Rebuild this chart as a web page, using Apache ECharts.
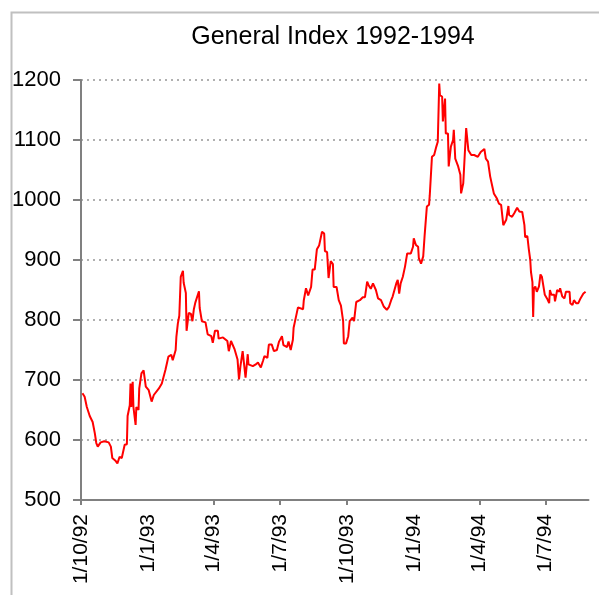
<!DOCTYPE html>
<html>
<head>
<meta charset="utf-8">
<title>General Index 1992-1994</title>
<script src="https://cdn.jsdelivr.net/npm/echarts@6/dist/echarts.min.js"></script>
<style>
  html, body { margin: 0; padding: 0; background: #fff; }
  #chart { width: 599px; height: 595px; }
</style>
</head>
<body>
<div id="chart"></div>
<script>
// index readings (day/month/year on the axis, ISO here)
var dates = [
  '1992-10-03', '1992-10-06', '1992-10-09', '1992-10-13', '1992-10-17', '1992-10-20', '1992-10-22', '1992-10-24', '1992-10-28', '1992-11-02',
  '1992-11-08', '1992-11-11', '1992-11-13', '1992-11-17', '1992-11-20', '1992-11-23', '1992-11-26', '1992-11-27', '1992-11-30', '1992-12-03',
  '1992-12-04', '1992-12-07', '1992-12-08', '1992-12-09', '1992-12-11', '1992-12-12', '1992-12-15', '1992-12-16', '1992-12-19', '1992-12-20',
  '1992-12-23', '1992-12-26', '1992-12-29', '1993-01-02', '1993-01-06', '1993-01-09', '1993-01-11', '1993-01-16', '1993-01-20', '1993-01-22',
  '1993-01-25', '1993-01-27', '1993-01-29', '1993-02-02', '1993-02-04', '1993-02-08', '1993-02-09', '1993-02-11', '1993-02-13', '1993-02-15',
  '1993-02-18', '1993-02-19', '1993-02-22', '1993-02-23', '1993-02-24', '1993-02-26', '1993-03-01', '1993-03-03', '1993-03-05', '1993-03-07',
  '1993-03-12', '1993-03-13', '1993-03-16', '1993-03-18', '1993-03-21', '1993-03-24', '1993-03-25', '1993-03-29', '1993-03-31', '1993-04-03',
  '1993-04-07', '1993-04-08', '1993-04-14', '1993-04-16', '1993-04-20', '1993-04-22', '1993-04-25', '1993-04-27', '1993-04-30', '1993-05-04',
  '1993-05-06', '1993-05-08', '1993-05-11', '1993-05-12', '1993-05-15', '1993-05-18', '1993-05-19', '1993-05-25', '1993-05-29', '1993-06-01',
  '1993-06-05', '1993-06-08', '1993-06-10', '1993-06-14', '1993-06-16', '1993-06-20', '1993-06-23', '1993-06-27', '1993-06-30', '1993-07-04',
  '1993-07-06', '1993-07-11', '1993-07-13', '1993-07-16', '1993-07-19', '1993-07-20', '1993-07-23', '1993-07-26', '1993-07-28', '1993-08-02',
  '1993-08-03', '1993-08-06', '1993-08-09', '1993-08-13', '1993-08-15', '1993-08-18', '1993-08-21', '1993-08-24', '1993-08-28', '1993-08-31',
  '1993-09-01', '1993-09-04', '1993-09-06', '1993-09-09', '1993-09-12', '1993-09-13', '1993-09-17', '1993-09-20', '1993-09-23', '1993-09-26',
  '1993-09-27', '1993-09-30', '1993-10-03', '1993-10-05', '1993-10-09', '1993-10-11', '1993-10-14', '1993-10-16', '1993-10-19', '1993-10-23',
  '1993-10-26', '1993-10-29', '1993-10-31', '1993-11-03', '1993-11-06', '1993-11-10', '1993-11-13', '1993-11-17', '1993-11-21', '1993-11-25',
  '1993-11-28', '1993-12-01', '1993-12-03', '1993-12-08', '1993-12-10', '1993-12-12', '1993-12-14', '1993-12-17', '1993-12-20', '1993-12-23',
  '1993-12-25', '1993-12-28', '1993-12-31', '1994-01-01', '1994-01-04', '1994-01-07', '1994-01-08', '1994-01-11', '1994-01-14', '1994-01-15',
  '1994-01-16', '1994-01-19', '1994-01-22', '1994-01-23', '1994-01-26', '1994-01-29', '1994-02-01', '1994-02-03', '1994-02-05', '1994-02-06',
  '1994-02-09', '1994-02-10', '1994-02-13', '1994-02-14', '1994-02-17', '1994-02-18', '1994-02-21', '1994-02-24', '1994-02-25', '1994-02-27',
  '1994-03-03', '1994-03-06', '1994-03-07', '1994-03-10', '1994-03-12', '1994-03-14', '1994-03-17', '1994-03-21', '1994-03-25', '1994-03-30',
  '1994-04-03', '1994-04-08', '1994-04-10', '1994-04-13', '1994-04-16', '1994-04-19', '1994-04-21', '1994-04-25', '1994-04-28', '1994-05-01',
  '1994-05-04', '1994-05-05', '1994-05-08', '1994-05-11', '1994-05-12', '1994-05-16', '1994-05-19', '1994-05-23', '1994-05-26', '1994-05-30',
  '1994-06-02', '1994-06-03', '1994-06-06', '1994-06-08', '1994-06-10', '1994-06-11', '1994-06-13', '1994-06-14', '1994-06-15', '1994-06-17',
  '1994-06-19', '1994-06-22', '1994-06-24', '1994-06-26', '1994-06-28', '1994-06-30', '1994-07-03', '1994-07-06', '1994-07-07', '1994-07-09',
  '1994-07-13', '1994-07-14', '1994-07-17', '1994-07-20', '1994-07-21', '1994-07-24', '1994-07-27', '1994-07-29', '1994-08-03', '1994-08-04',
  '1994-08-07', '1994-08-09', '1994-08-12', '1994-08-15', '1994-08-18', '1994-08-22', '1994-08-25'
]
var values = [
  678, 672, 655, 640, 630, 611, 595, 589, 596, 598,
  596, 589, 570, 566, 561, 572, 570, 567, 592, 593,
  640, 658, 694, 655, 697, 655, 625, 655, 650, 686,
  711, 716, 689, 683, 664, 675, 672, 686, 694, 697,
  717, 728, 739, 742, 733, 750, 772, 794, 807, 872,
  882, 862, 845, 782, 779, 812, 810, 798, 818, 829,
  848, 820, 798, 801, 796, 776, 776, 773, 762, 782,
  782, 769, 771, 768, 765, 748, 765, 765, 751, 734,
  701, 723, 748, 746, 704, 743, 726, 723, 726, 729,
  721, 732, 740, 737, 759, 759, 748, 750, 764, 773,
  758, 755, 764, 750, 767, 787, 804, 821, 818, 818,
  833, 853, 841, 855, 884, 884, 918, 924, 947, 944,
  915, 913, 870, 898, 893, 855, 855, 833, 824, 798,
  761, 761, 773, 798, 804, 798, 830, 827, 833, 838,
  838, 864, 858, 852, 861, 850, 836, 833, 822, 817,
  822, 833, 839, 861, 867, 844, 861, 872, 889, 911,
  914, 911, 922, 936, 925, 922, 903, 894, 906, 903,
  942, 989, 992, 1008, 1072, 1075, 1089, 1097, 1194, 1175,
  1172, 1131, 1169, 1111, 1111, 1056, 1089, 1100, 1117, 1069,
  1056, 1042, 1011, 1028, 1026, 1120, 1083, 1075, 1075, 1072,
  1080, 1085, 1069, 1064, 1039, 1022, 1011, 1003, 994, 992,
  958, 960, 967, 990, 975, 972, 978, 987, 981, 980,
  958, 938, 940, 918, 900, 880, 863, 805, 852, 856,
  847, 856, 876, 872, 872, 842, 836, 828, 850, 842,
  842, 831, 850, 847, 853, 839, 836, 847, 847, 828,
  825, 833, 828, 828, 836, 844, 847
]
// quarter starts shown on the x axis
var labelDates = ['1992-10-01', '1993-01-01', '1993-04-01', '1993-07-01', '1993-10-01', '1994-01-01', '1994-04-01', '1994-07-01']
var tickDates = ['1992-10-01', '1993-04-01', '1993-07-01', '1993-10-01', '1994-04-01', '1994-07-01']

function toTime (s) {
  var p = s.split('-')
  return new Date(+p[0], +p[1] - 1, +p[2]).getTime()
}

var chart = echarts.init(document.getElementById('chart'), null, { renderer: 'canvas' })
var font = 'Liberation Sans, Arial, sans-serif'

var option = {
  animation: false,
  backgroundColor: '#fff',
  title: {
    text: 'General Index 1992-1994',
    left: 333,
    textAlign: 'center',
    top: 25,
    padding: 0,
    textStyle: {
      fontFamily: font,
      fontSize: 25,
      fontWeight: 'normal',
      color: '#000'
    }
  },
  // chart area border
  graphic: [{
    type: 'rect',
    left: 9,
    top: 10,
    shape: { width: 700, height: 700 },
    style: { fill: 'none', stroke: '#c0c0c0', lineWidth: 2 },
    silent: true
  }],
  grid: {
    left: 81,
    right: 10.5,
    top: 80,
    bottom: 95
  },
  // dates kept as plain timestamps so the quarter ticks can be placed exactly
  xAxis: {
    type: 'value',
    min: toTime('1992-10-01'),
    max: toTime('1994-08-29'),
    axisLine: { lineStyle: { color: '#808080', width: 2 } },
    axisTick: {
      show: true,
      length: 5,
      customValues: tickDates.map(toTime),
      lineStyle: { color: '#808080', width: 2 }
    },
    axisLabel: {
      rotate: 90,
      margin: 14,
      customValues: labelDates.map(toTime),
      fontFamily: font,
      fontSize: 21,
      color: '#000',
      formatter: function (val) {
        var d = new Date(val)
        return d.getDate() + '/' + (d.getMonth() + 1) + '/' + String(d.getFullYear()).slice(2)
      }
    },
    splitLine: { show: false }
  },
  yAxis: {
    type: 'value',
    min: 500,
    max: 1200,
    interval: 100,
    axisLine: { show: true, lineStyle: { color: '#808080', width: 2 } },
    axisTick: { show: true, length: 8, lineStyle: { color: '#808080', width: 2 } },
    axisLabel: {
      margin: 20,
      fontFamily: font,
      fontSize: 22,
      color: '#000',
      formatter: function (val) { return String(val) }
    },
    splitLine: {
      show: true,
      lineStyle: { color: '#b0b0b0', width: 2, type: [2, 4] }
    }
  },
  series: [{
    name: 'General Index',
    type: 'line',
    showSymbol: false,
    data: dates.map(function (d, i) { return [toTime(d), values[i]] }),
    lineStyle: { color: '#ff0000', width: 2 },
    itemStyle: { color: '#ff0000' }
  }]
}
chart.setOption(option)
</script>
</body>
</html>
